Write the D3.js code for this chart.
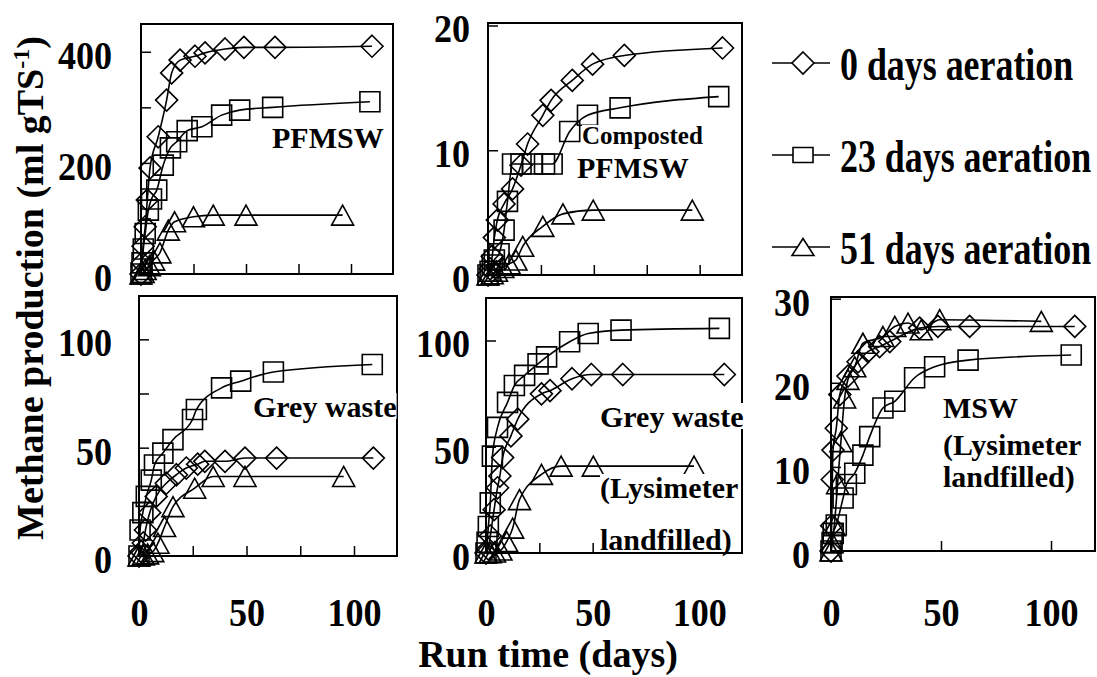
<!DOCTYPE html>
<html>
<head>
<meta charset="utf-8">
<script src="https://cdn.jsdelivr.net/npm/d3@7"></script>
<style>
  body { margin: 0; background: #fff; }
  svg { display: block; }
  text { font-family: 'Liberation Serif', 'Times New Roman', serif; font-weight: bold; fill: #000; }
</style>
</head>
<body>
<script>
const SERIES = ['0 days aeration', '23 days aeration', '51 days aeration']
const SHAPES = ['diamond', 'square', 'triangle']
const X_LABELS = [0, 50, 100]

// PFMSW
const pfmswDays0 = [0, 0.5, 1, 2, 3, 4.3, 8.2, 12.2, 14.6, 18.6, 25.7, 30.5, 40, 49, 63.8, 110]
const pfmswVals0 = [0, 20, 50, 85, 133, 191, 247, 313, 362, 385, 392, 398, 405, 408, 408, 410]
const pfmswDays23 = [0, 0.5, 1.1, 2, 3.5, 5, 7.5, 10.6, 14, 17, 22, 29, 38.4, 47, 62.7, 109]
const pfmswVals23 = [0, 20, 45, 73, 115, 135, 151, 196, 227, 238, 258, 265, 286, 295, 300, 310]
const pfmswDays51 = [0, 1, 2, 4, 6, 9, 13, 16, 25, 34.4, 50, 96]
const pfmswVals51 = [0, 3, 8, 15, 25, 38, 79, 94, 103, 106, 106, 106]

// Composted PFMSW
const compDays0 = [0, 1, 2, 3, 4.4, 7.6, 11.6, 15.6, 18.7, 25.9, 29.8, 39.8, 49.4, 64.4, 110.8]
const compVals0 = [0, 0.5, 1.5, 3, 4.4, 5.7, 6.9, 8.8, 10.5, 12.8, 14.0, 15.6, 16.9, 17.6, 18.2]
const compDays23 = [0, 1, 2, 3, 5.2, 7.6, 9.2, 11.6, 15.6, 21, 26.7, 30.3, 38.6, 47, 62.4, 109]
const compVals23 = [0, 0.3, 0.8, 1.2, 1.7, 3.6, 5.9, 8.9, 8.9, 8.9, 8.9, 8.9, 11.5, 12.8, 13.4, 14.3]
const compDays51 = [0, 2, 4, 7, 10, 13.2, 16.4, 25.9, 35.4, 49.7, 96.5]
const compVals51 = [0, 0.1, 0.3, 0.6, 0.9, 1.2, 2.3, 3.9, 4.9, 5.2, 5.2]

// Grey waste
const greyDays0 = [0, 1, 2, 3, 5, 8, 12.7, 17.4, 22, 27.3, 30.6, 40, 49.3, 64, 109]
const greyVals0 = [0, 2, 6, 12, 20, 27.5, 33.6, 37.5, 40.6, 42.4, 43.7, 43.7, 45.2, 45.2, 45.2]
const greyDays23 = [0, 0.5, 1.8, 3.4, 5.7, 7.2, 11.1, 15.8, 24.9, 26.7, 38.4, 47.3, 62.5, 108.5]
const greyVals23 = [0, 12, 20, 27.5, 35, 42, 47.5, 53.7, 63, 67.6, 77.6, 80.7, 84.9, 88.4]
const greyDays51 = [0, 2, 4, 6.4, 8.8, 11.9, 15.8, 25.9, 34.5, 49.3, 95.2]
const greyVals51 = [0, 0.5, 1, 2, 5.9, 13.6, 22.8, 31.3, 36.7, 36.7, 36.7]

// Grey waste (Lysimeter landfilled)
const lysDays0 = [0, 1, 2, 3.8, 5.4, 6.5, 7.8, 11.7, 14.9, 26, 30, 40.3, 49.4, 64.1, 111.7]
const lysVals0 = [0, 2, 8, 20.4, 30.7, 36.2, 44.9, 55.1, 63, 74.9, 76.4, 82, 84, 84, 84]
const lysDays23 = [0, 0.5, 1.1, 2, 3, 5.4, 10.1, 13.3, 18.1, 24.4, 28.4, 39.2, 47.9, 63.3, 109.4]
const lysVals23 = [0, 5, 12.5, 23.6, 45.6, 59.1, 70.9, 78.8, 83.6, 89, 92.3, 99.4, 103.3, 104.9, 105.7]
const lysDays51 = [0, 2, 4, 7, 9.7, 12.5, 15.7, 26, 35.2, 50.3, 97.5]
const lysVals51 = [0, 0.2, 0.5, 1.4, 5.4, 11.7, 25.1, 37, 40.9, 40.9, 40.9]

// MSW (Lysimeter landfilled)
const mswDays0 = [0, 0.3, 0.6, 0.9, 2.4, 4, 7.7, 12.3, 16.8, 22.1, 26.7, 40.3, 48.6, 63, 110.8]
const mswVals0 = [0, 3, 8.5, 12, 14.6, 18.6, 20.8, 22.5, 23.7, 24.3, 24.9, 26.5, 26.7, 26.7, 26.7]
const mswDays23 = [0, 0.5, 1, 2.4, 5.5, 7, 10.8, 14.5, 17.6, 23.6, 29, 38, 47.1, 62.3, 109.2]
const mswVals23 = [0, 1, 2.1, 3.1, 6.3, 7.9, 9.25, 11.4, 13.6, 17, 17.8, 20.6, 21.9, 22.7, 23.3]
const mswDays51 = [0, 0.5, 1.5, 3, 4.5, 6.2, 7.7, 10.8, 14.5, 23.6, 29, 35, 41, 49.4, 95.6]
const mswVals51 = [0, 1, 3, 8, 13, 18.2, 20.4, 21.9, 24.7, 25.5, 26.7, 27.1, 26.3, 27.5, 27.3]

const WIDTH = 1097
const HEIGHT = 677
const TICK_FONT = 41
const TICK_SX = 0.88
const LEGEND_FONT = 46
const LEGEND_SX = 0.78
const NOTE_FONT = 30
const TITLE_FONT = 38
const TICK_LEN = 10
const X_MAX = 120
const X_LABEL_BASE = 626

const panels = [
  { left: 141, right: 393, top: 24, bottom: 274, yMax: 450, gap: 29,
    days: [pfmswDays0, pfmswDays23, pfmswDays51], vals: [pfmswVals0, pfmswVals23, pfmswVals51],
    yTicks: [0, 100, 200, 300, 400], yLabels: [0, 200, 400], xTicks: [25, 50, 75, 100], xLabels: false,
    notes: [{ text: 'PFMSW', x: 272, y: 148, size: NOTE_FONT }] },
  { left: 488, right: 742, top: 23, bottom: 275, yMax: 20.2, gap: 18,
    days: [compDays0, compDays23, compDays51], vals: [compVals0, compVals23, compVals51],
    yTicks: [0, 10, 20], yLabels: [0, 10, 20], xTicks: [25, 50, 75, 100], xLabels: false,
    notes: [{ text: 'Composted', x: 582, y: 144, size: 25 }, { text: 'PFMSW', x: 577, y: 178, size: NOTE_FONT }] },
  { left: 139, right: 397, top: 296, bottom: 556, yMax: 120, gap: 27,
    days: [greyDays0, greyDays23, greyDays51], vals: [greyVals0, greyVals23, greyVals51],
    yTicks: [0, 25, 50, 75, 100], yLabels: [0, 50, 100], xTicks: [25, 50, 75, 100], xLabels: true,
    notes: [{ text: 'Grey waste', x: 253, y: 417, size: NOTE_FONT }] },
  { left: 486, right: 742, top: 298, bottom: 553, yMax: 120, gap: 16,
    days: [lysDays0, lysDays23, lysDays51], vals: [lysVals0, lysVals23, lysVals51],
    yTicks: [0, 50, 100], yLabels: [0, 50, 100], xTicks: [25, 50, 75, 100], xLabels: true,
    notes: [{ text: 'Grey waste', x: 600, y: 427, size: NOTE_FONT },
            { text: '(Lysimeter', x: 600, y: 498, size: NOTE_FONT },
            { text: 'landfilled)', x: 600, y: 550, size: NOTE_FONT }] },
  { left: 831, right: 1095, top: 297, bottom: 551, yMax: 30.2, gap: 21,
    days: [mswDays0, mswDays23, mswDays51], vals: [mswVals0, mswVals23, mswVals51],
    yTicks: [0, 10, 20, 30], yLabels: [0, 10, 20, 30], xTicks: [50, 100], xLabels: true,
    notes: [{ text: 'MSW', x: 943, y: 418, size: NOTE_FONT },
            { text: '(Lysimeter', x: 943, y: 455, size: NOTE_FONT },
            { text: 'landfilled)', x: 943, y: 487, size: NOTE_FONT }] },
]

function markerPath(shape, cx, cy, sy = 1) {
  if (shape === 'diamond') {
    const r = 11
    return `M${cx},${cy - r * sy}L${cx + r},${cy}L${cx},${cy + r * sy}L${cx - r},${cy}Z`
  }
  if (shape === 'square') {
    const h = 10
    return `M${cx - h},${cy - h * sy}H${cx + h}V${cy + h * sy}H${cx - h}Z`
  }
  const w = 11, h = 10 * sy
  return `M${cx},${cy - h}L${cx + w},${cy + h}L${cx - w},${cy + h}Z`
}

const svg = d3.select('body')
  .append('svg')
  .attr('width', WIDTH)
  .attr('height', HEIGHT)
  .attr('viewBox', `0 0 ${WIDTH} ${HEIGHT}`)

svg.append('rect').attr('width', WIDTH).attr('height', HEIGHT).attr('fill', '#fff')

panels.forEach(p => {
  const x = d3.scaleLinear().domain([0, X_MAX]).range([p.left, p.right])
  const y = d3.scaleLinear().domain([0, p.yMax]).range([p.bottom, p.top])
  const g = svg.append('g')

  // frame
  g.append('rect')
    .attr('x', p.left).attr('y', p.top)
    .attr('width', p.right - p.left).attr('height', p.bottom - p.top)
    .attr('fill', 'none').attr('stroke', '#000').attr('stroke-width', 2)

  // y axis, ticks pointing inward
  const yAxis = g.append('g')
    .attr('transform', `translate(${p.left},0)`)
    .call(d3.axisLeft(y)
      .tickValues(p.yTicks)
      .tickSize(-TICK_LEN)
      .tickSizeOuter(0)
      .tickPadding(p.gap)
      .tickFormat(d => p.yLabels.includes(d) ? d : ''))
  yAxis.select('.domain').remove()
  yAxis.selectAll('line').attr('stroke', '#000').attr('stroke-width', 1.5)
  yAxis.selectAll('text')
    .attr('font-size', TICK_FONT)
    .attr('font-family', null)
    .attr('x', -p.gap / TICK_SX)
    .attr('dy', '0.40em')
    .attr('transform', `scale(${TICK_SX},1)`)

  // x axis
  const xAxis = g.append('g')
    .attr('transform', `translate(0,${p.bottom})`)
    .call(d3.axisBottom(x)
      .tickValues(p.xLabels ? Array.from(new Set([...X_LABELS, ...p.xTicks])).sort((a, b) => a - b) : p.xTicks)
      .tickSize(-TICK_LEN)
      .tickSizeOuter(0)
      .tickFormat(d => p.xLabels && X_LABELS.includes(d) ? d : ''))
  xAxis.select('.domain').remove()
  xAxis.selectAll('line').attr('stroke', '#000').attr('stroke-width', 1.5)
  xAxis.selectAll('text')
    .attr('font-size', TICK_FONT)
    .attr('font-family', null)
    .attr('y', X_LABEL_BASE - p.bottom)
    .attr('dy', 0)
    .attr('transform', `scale(${TICK_SX},1)`)
    .each(function () {
      // keep centre after horizontal squeeze
      const t = d3.select(this.parentNode).attr('transform')
      const tx = +t.match(/translate\(([-\d.]+)/)[1]
      d3.select(this.parentNode).attr('transform', `translate(${tx},0)`)
    })

  // lines
  const line = d3.line()
    .x(d => x(d[0]))
    .y(d => y(d[1]))
    .curve(d3.curveMonotoneX)

  p.days.forEach((days, i) => {
    const pts = days.map((d, k) => [d, p.vals[i][k]])
    g.append('path')
      .datum(pts)
      .attr('d', line)
      .attr('fill', 'none')
      .attr('stroke', '#000')
      .attr('stroke-width', 1.6)
    g.append('g')
      .selectAll('path')
      .data(pts)
      .enter()
      .append('path')
      .attr('d', d => markerPath(SHAPES[i], x(d[0]), y(d[1])))
      .attr('fill', 'none')
      .attr('stroke', '#000')
      .attr('stroke-width', 1.6)
  })

  // panel notes, on white text boxes
  p.notes.forEach(n => {
    const t = g.append('text')
      .attr('x', n.x).attr('y', n.y)
      .attr('font-size', n.size)
      .text(n.text)
    const bb = t.node().getBBox()
    g.insert('rect', () => t.node())
      .attr('x', bb.x).attr('y', bb.y + 3)
      .attr('width', bb.width).attr('height', n.y - bb.y - 1)
      .attr('fill', '#fff')
  })
})

// legend
const legend = svg.append('g')
SERIES.forEach((name, i) => {
  const ly = 63 + i * 92
  legend.append('line')
    .attr('x1', 772).attr('x2', 830)
    .attr('y1', ly).attr('y2', ly)
    .attr('stroke', '#000').attr('stroke-width', 1.6)
  legend.append('path')
    .attr('d', markerPath(SHAPES[i], 803, ly, i === 1 ? 0.75 : (i === 2 ? 0.85 : 1)))
    .attr('fill', '#fff')
    .attr('stroke', '#000').attr('stroke-width', 1.6)
  legend.append('text')
    .attr('transform', `translate(840,${ly + 17}) scale(${LEGEND_SX},1)`)
    .attr('font-size', LEGEND_FONT)
    .text(name)
})

// axis titles
svg.append('text')
  .attr('x', 548).attr('y', 667)
  .attr('text-anchor', 'middle')
  .attr('font-size', TITLE_FONT)
  .text('Run time (days)')

const yTitle = svg.append('text')
  .attr('transform', 'translate(43,288) rotate(-90)')
  .attr('text-anchor', 'middle')
  .attr('font-size', TITLE_FONT)
yTitle.append('tspan').text('Methane production (ml gTS')
yTitle.append('tspan').attr('font-size', 24).attr('dy', -14).text('-1')
yTitle.append('tspan').attr('dy', 14).text(')')
</script>
</body>
</html>
